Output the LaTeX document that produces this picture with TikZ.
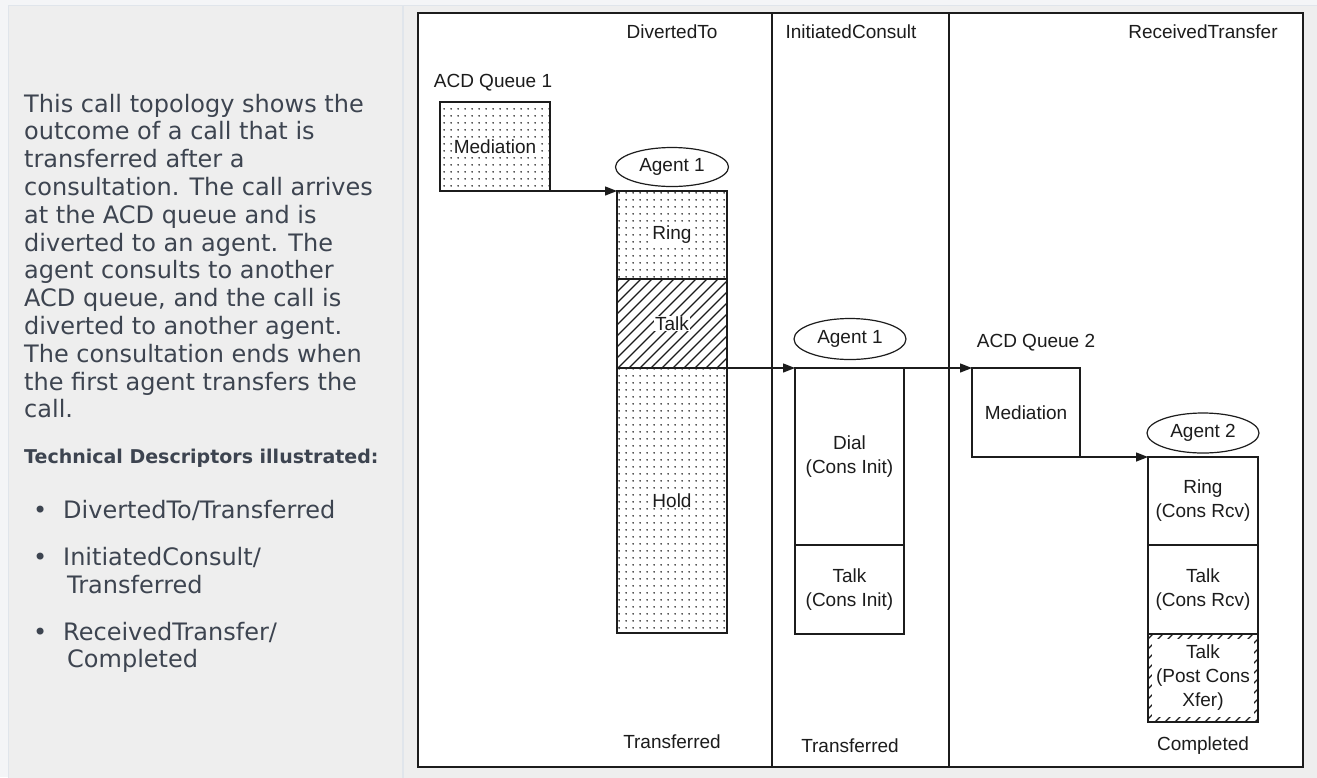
\documentclass[tikz,border=0pt]{standalone}
\usepackage{fontspec}
\setmainfont{Liberation Sans}
\newfontfamily\descfont{DejaVu Sans}
\usetikzlibrary{positioning,patterns,arrows.meta,shapes.geometric}
\definecolor{pagebg}{RGB}{244,245,247}
\definecolor{cellbg}{RGB}{238,238,238}
\definecolor{cellrule}{RGB}{224,229,235}
\definecolor{desctext}{RGB}{61,68,80}
\definecolor{ink}{RGB}{28,28,28}
\pgfdeclarepatternformonly{sparsedots}{\pgfpointorigin}{\pgfpoint{7pt}{7pt}}{\pgfpoint{7pt}{7pt}}{\pgfpathcircle{\pgfpoint{3.5pt}{3.5pt}}{1pt}\pgfusepath{fill}}
\pgfdeclarepatternformonly{widehatch}{\pgfpoint{-1pt}{-1pt}}{\pgfpoint{12pt}{12pt}}{\pgfpoint{11pt}{11pt}}{\pgfsetlinewidth{1.2pt}\pgfpathmoveto{\pgfpointorigin}\pgflineto{\pgfpoint{11.1pt}{11.1pt}}\pgfusepath{stroke}}
\pgfdeclarepatternformonly{finehatch}{\pgfpoint{-1pt}{-1pt}}{\pgfpoint{11pt}{11pt}}{\pgfpoint{10pt}{10pt}}{\pgfsetlinewidth{1.2pt}\pgfpathmoveto{\pgfpointorigin}\pgflineto{\pgfpoint{10.1pt}{10.1pt}}\pgfusepath{stroke}}
\newcommand{\boxfont}{\fontsize{19}{24}\selectfont}
\begin{document}
\begin{tikzpicture}[x=1pt,y=-1pt,
	stage/.style={draw=ink,line width=1.3pt,minimum width=110pt,inner sep=0pt,outer sep=0pt,font=\boxfont,text=ink,align=center},
	dotbox/.style={stage,pattern=sparsedots,pattern color=ink},
	hatchbox/.style={stage,pattern=widehatch,pattern color=ink},
	tag/.style={fill=white,inner sep=1pt,font=\boxfont,text=ink},
	agent/.style={draw=ink,line width=1.2pt,ellipse,minimum width=113pt,minimum height=39pt,inner sep=0pt,font=\boxfont,text=ink},
	caption/.style={font=\boxfont,text=ink},
	flow/.style={draw=ink,line width=1.3pt,-{Triangle[length=12pt,width=9pt]}},
	desc/.style={font=\descfont\fontsize{24}{28}\selectfont,text=desctext,inner sep=0pt,anchor=base west}]
	\useasboundingbox (0,0) rectangle (1317,777);
	\fill[pagebg] (0,0) rectangle (1317,777);
	\filldraw[fill=cellbg,draw=cellrule,line width=0.8pt] (8,5) rectangle (402,780);
	\filldraw[fill=cellbg,draw=cellrule,line width=0.8pt] (403,5) rectangle (1320,780);
	\foreach \ln [count=\i from 0] in {This call topology shows the,outcome of a call that is,transferred after a,consultation. The call arrives,at the ACD queue and is,diverted to an agent. The,agent consults to another,{ACD queue, and the call is},diverted to another agent.,The consultation ends when,the first agent transfers the,call.}
		\node[desc] (line\i) at (24,{112+27.8*\i}) {\ln};
	\node[desc,font=\descfont\bfseries\fontsize{19}{23}\selectfont] (techhead) at (24,463) {Technical Descriptors illustrated:};
	\node[desc] (dot1) at (33,518) {•};
	\node[desc] (item1) at (63,518) {DivertedTo/Transferred};
	\node[desc] (dot2) at (33,565) {•};
	\node[desc] (item2) at (63,565) {InitiatedConsult/};
	\node[desc] (item2b) at (67,593) {Transferred};
	\node[desc] (dot3) at (33,640) {•};
	\node[desc] (item3) at (63,640) {ReceivedTransfer/};
	\node[desc] (item3b) at (67,667) {Completed};
	\fill[white] (418,13) rectangle (1303,767);
	\draw[ink,line width=1.5pt] (772,13) -- (772,767);
	\draw[ink,line width=1.5pt] (949,13) -- (949,767);
	\draw[ink,line width=2pt] (418,13) rectangle (1303,767);
	\node[caption] (hdiv) at (672,32) {DivertedTo};
	\node[caption] (hcons) at (851,32) {InitiatedConsult};
	\node[caption] (hrecv) at (1203,32) {ReceivedTransfer};
	\node[caption] (acd1) at (493,83) {ACD Queue 1};
	\node[dotbox,minimum height=89pt,anchor=north west,label={[tag]center:Mediation}] (med1) at (440,102) {};
	\node[agent] (agA) at (672,167) {Agent 1};
	\node[dotbox,minimum height=88pt,anchor=north west,label={[tag]center:Ring}] (ring1) at (617,191) {};
	\node[hatchbox,minimum height=89pt,below=0pt of ring1,label={[tag]center:Talk}] (talk1) {};
	\node[dotbox,minimum height=265pt,below=0pt of talk1,label={[tag]center:Hold}] (hold1) {};
	\node[caption] (endA) at (672,742) {Transferred};
	\node[agent,minimum width=112pt,minimum height=41pt] (agB) at (850,339) {Agent 1};
	\node[stage,minimum width=109pt,minimum height=177pt,anchor=north west] (dial) at (795,368) {Dial\\(Cons Init)};
	\node[stage,minimum width=109pt,minimum height=89pt,below=0pt of dial] (talkI) {Talk\\(Cons Init)};
	\node[caption] (endB) at (850,746) {Transferred};
	\node[caption] (acd2) at (1036,343) {ACD Queue 2};
	\node[stage,minimum width=108pt,minimum height=89pt,anchor=north west] (med2) at (972,368) {Mediation};
	\node[agent,minimum width=112pt,minimum height=40pt] (agC) at (1203,433) {Agent 2};
	\node[stage,minimum height=88pt,anchor=north west] (ringR) at (1148,457) {Ring\\(Cons Rcv)};
	\node[stage,minimum height=89pt,below=0pt of ringR] (talkR) {Talk\\(Cons Rcv)};
	\node[stage,minimum height=88pt,below=0pt of talkR,pattern=finehatch,pattern color=ink,
		path picture={\fill[white] ([xshift=4pt,yshift=-5pt]path picture bounding box.north west) rectangle ([xshift=-4pt,yshift=5pt]path picture bounding box.south east);}] (postx) {Talk\\(Post Cons\\Xfer)};
	\node[caption] (endC) at (1203,746) {Completed};
	\draw[flow] (med1.south west) -- (ring1.north west);
	\draw[flow] (talk1.south east) -- (dial.north west);
	\draw[flow] (dial.north east) -- (med2.north west);
	\draw[flow] (med2.south west) -- (ringR.north west);
\end{tikzpicture}
\end{document}
